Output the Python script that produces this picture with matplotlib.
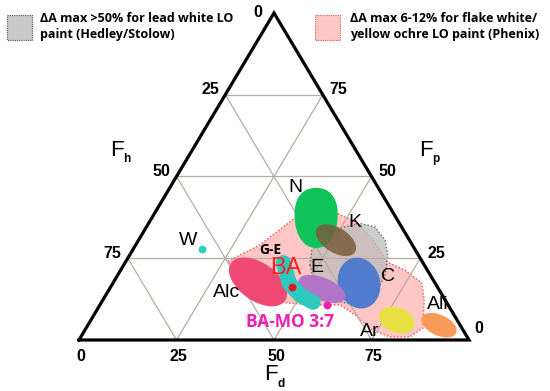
import matplotlib
matplotlib.use("Agg")
import numpy as np
import matplotlib.pyplot as plt
from matplotlib.patches import Ellipse, Polygon

# triangle: base 0..100 (F_d), height H in the same units
H = 83.85
TICKS = [25, 50, 75]

# solvent regions (center x, center y, width, height, angle, color, alpha)
reg_names = ["K", "C", "E", "Alc", "Ar", "Ali"]
reg_x = [65.9, 71.8, 62.3, 45.9, 81.5, 92.3]
reg_y = [25.6, 14.6, 13.1, 14.9, 5.1, 3.8]
reg_w = [11.5, 10.8, 12.8, 16.9, 9.5, 9.7]
reg_h = [6.4, 13.2, 5.8, 9.7, 6.4, 5.3]
reg_ang = [-32, 15, -22, -35, -20, -25]
reg_col = ["#7a5c3c", "#4f7ccc", "#b274c6", "#f04a74", "#e6e043", "#f99b58"]
reg_alpha = [0.85, 1, 1, 1, 1, 1]

# N region (rounded blob): center x, center y, half width, half height
n_blob = [60.8, 31.3, 5.5, 7.7]

# G-E band
ge_x = [52.4, 53.9, 56.7, 60.0]
ge_y = [19.8, 14.6, 11.5, 9.7]

# Phenix region (flake white / yellow ochre)
pink_x = [38.2, 46.4, 55.4, 60.5, 65.6, 70.8, 75.1, 79.0, 83.6, 87.9, 88.5, 88.2,
          84.9, 79.7, 75.1, 70.8, 66.9, 59.2, 51.5, 45.1, 40.0]
pink_y = [20.2, 24.4, 31.3, 33.3, 32.8, 30.3, 26.2, 20.0, 17.9, 14.6, 10.3, 3.1,
          0.8, 0.8, 2.6, 6.4, 9.0, 9.0, 9.7, 12.3, 16.7]

# Hedley/Stolow region (lead white)
gray_x = [59.2, 59.7, 62.3, 66.9, 72.1, 75.9, 78.5, 79.2, 78.5, 75.9, 70.8, 64.4, 60.5]
gray_y = [19.2, 23.1, 26.2, 28.7, 29.9, 29.0, 25.6, 21.5, 16.7, 11.5, 9.0, 10.3, 14.1]

# single points
pt_names = ["W", "BA", "BA-MO 3:7"]
pt_x = [31.5, 54.6, 63.6]
pt_y = [23.3, 13.6, 9.0]
pt_col = ["#2ccfc4", "#e8141c", "#f01fb0"]

# region labels
lab_text = ["N", "K", "E", "C", "Ali", "Ar", "Alc", "W"]
lab_x = [55.4, 70.8, 61.0, 79.2, 92.1, 74.6, 37.7, 27.9]
lab_y = [39.0, 30.0, 18.5, 16.2, 9.0, 2.3, 12.1, 25.6]

fig = plt.figure(figsize=(5.5, 3.91), dpi=100)
ax = fig.add_axes([0, 0, 1, 1])
ax.set_xlim(-20.26, 120.77)
ax.set_ylim(-13.08, 87.18)
ax.axis("off")

ax.add_patch(Polygon(list(zip(pink_x, pink_y)), closed=True, fc="#ffc6c6",
                     ec="#ff4d4d", ls=(0, (1, 1.5)), lw=1, zorder=1))
ax.add_patch(Polygon(list(zip(gray_x, gray_y)), closed=True, fc="#bdbdbd", alpha=0.75,
                     ec="#444444", ls=(0, (1, 1.5)), lw=1, zorder=1.5))

# grid
gc = "#b5ad9f"
for t in TICKS:
    f = t / 100
    ax.plot([50 * f, 100 - 50 * f], [H * f, H * f], color=gc, lw=0.9, zorder=2)
    ax.plot([t, 50 + t / 2], [0, H * (1 - f)], color=gc, lw=0.9, zorder=2)
    ax.plot([t, t / 2], [0, H * f], color=gc, lw=0.9, zorder=2)

ax.plot([0, 100, 50, 0], [0, 0, H, 0], color="black", lw=2.3, zorder=5,
        solid_joinstyle="miter")

# N blob: superellipse, a bit wider at the top
th = np.linspace(0, 2 * np.pi, 120)
sx = np.sign(np.cos(th)) * np.abs(np.cos(th)) ** (2 / 2.25)
sy = np.sign(np.sin(th)) * np.abs(np.sin(th)) ** (2 / 2.25)
nx = n_blob[0] + n_blob[2] * sx * (1 + 0.08 * sy)
ny = n_blob[1] + n_blob[3] * sy
ax.fill(nx, ny, color="#10c25a", lw=0, zorder=3)

for i in range(len(reg_names)):
    ax.add_patch(Ellipse((reg_x[i], reg_y[i]), reg_w[i], reg_h[i], angle=reg_ang[i],
                         fc=reg_col[i], ec="none", alpha=reg_alpha[i], zorder=3))
ax.plot(ge_x, ge_y, color="#2ec9bd", lw=11, solid_capstyle="round", zorder=3)

for i in range(len(pt_names)):
    ax.scatter(pt_x[i], pt_y[i], s=32, color=pt_col[i], zorder=4, linewidths=0)

lf = "Liberation Sans"
for s, x, y in zip(lab_text, lab_x, lab_y):
    ax.text(x, y, s, fontsize=14, family=lf, ha="center", va="center", zorder=6)
ax.text(49.0, 23.1, "G-E", fontsize=10, family="Open Sans", weight="bold",
        ha="center", va="center", zorder=6)
ax.text(53.1, 18.4, "BA", fontsize=17, family=lf, color="#ff2020",
        ha="center", va="center", zorder=6)
ax.text(54.1, 4.6, "BA-MO 3:7", fontsize=12.5, family="Open Sans", weight="bold",
        color="#f01fb0", ha="center", va="center", zorder=6)

# tick labels
tf = dict(ha="center", va="center", fontsize=11.5, family=lf, weight="bold",
          textcoords="offset points")
for t in [0] + TICKS:
    ax.annotate(str(t), (t, 0), xytext=(1.4, -12.2), **tf)
for t in TICKS:
    f = t / 100
    ax.annotate(str(100 - t), (50 * f, H * f), xytext=(-10.8, 3.6), **tf)
    ax.annotate(str(t), (100 - 50 * f, H * f), xytext=(11.5, 3.6), **tf)
ax.annotate("0", (50, H), xytext=(-11.5, 0), **tf)
ax.annotate("0", (100, 0), xytext=(7.2, 8.6), **tf)

# axis names
for x, y, sub in [(9.7, 48.7, "h"), (89.0, 48.7, "p"), (49.2, -8.9, "d")]:
    ax.text(x, y, "F", fontsize=16, family=lf, ha="center", va="center")
    ax.text(x + 2.5, y - 2.3, sub, fontsize=8.5, family=lf, weight="bold",
            ha="center", va="center")

# legend
ax.add_patch(Polygon([(-18.5, 83.3), (-12.1, 83.3), (-12.1, 76.9), (-18.5, 76.9)],
                     closed=True, fc="#c8c8c8", ec="#555555", ls=(0, (1, 1)), lw=0.8))
ax.text(-10.0, 80.4, "\u0394A max >50% for lead white LO\npaint (Hedley/Stolow)",
        fontsize=9, family="Open Sans", weight="bold", va="center", ha="left",
        linespacing=1.3)
ax.add_patch(Polygon([(60.5, 83.3), (66.9, 83.3), (66.9, 76.9), (60.5, 76.9)],
                     closed=True, fc="#ffc6c6", ec="#ff4d4d", ls=(0, (1, 1)), lw=0.8))
ax.text(69.5, 80.4, "\u0394A max 6-12% for flake white/\nyellow ochre LO paint (Phenix)",
        fontsize=9, family="Open Sans", weight="bold", va="center", ha="left",
        linespacing=1.3)

fig.savefig("out.png", dpi=100)
